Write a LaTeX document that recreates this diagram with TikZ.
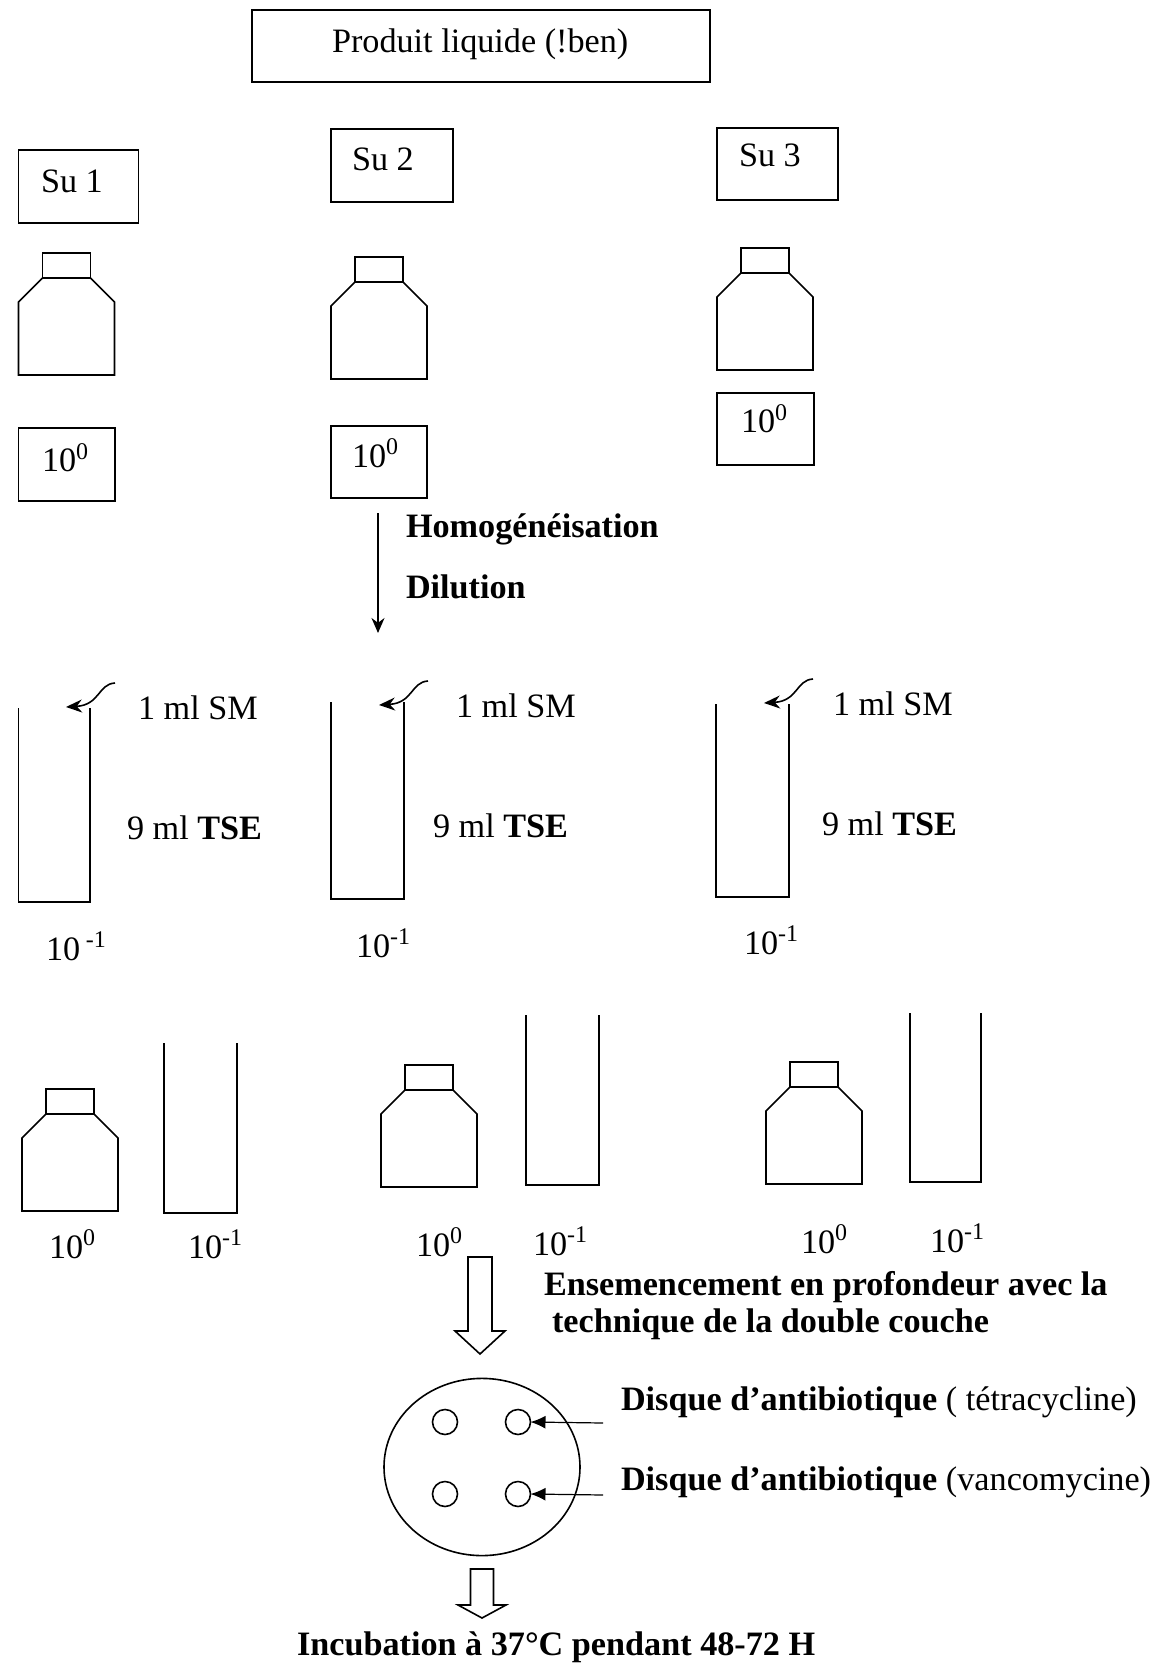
\documentclass[tikz,border=0pt]{standalone}
\usepackage{fontspec}
\setmainfont{Liberation Serif}
\usetikzlibrary{arrows.meta,shapes.geometric}
\newcommand\mybottle[2]{%
  \draw (#1+24,#2) rectangle (#1+72,#2+25);
  \draw (#1+24,#2+25) -- (#1,#2+49) -- (#1,#2+122) -- (#1+96,#2+122) -- (#1+96,#2+49) -- (#1+72,#2+25);
}
\newcommand\mytube[4]{\draw (#1,#2) -- (#1,#4) -- (#3,#4) -- (#3,#2);}
\newcommand\myhollow[6]{% cx, top, base, tip, shaft half, head half
  \draw (#1-#5,#2) -- (#1-#5,#3) -- (#1-#6,#3) -- (#1,#4) -- (#1+#6,#3) -- (#1+#5,#3) -- (#1+#5,#2) -- cycle;
}
\newcommand\mycurl[3]{% name, dx, dy
  \coordinate (#1s) at (115+#2,683+#3);
  \coordinate (#1e) at (66+#2,707+#3);
  \draw[curltip] (#1s) .. controls (98+#2,684+#3) and (100+#2,705+#3) .. (#1e);
}
\begin{document}
\begin{tikzpicture}[x=0.5pt,y=-0.5pt,
  line width=0.8pt,
  every node/.style={inner sep=0pt, outer sep=0pt, font=\fontsize{17.1}{20}\selectfont},
  lbl/.style={anchor=base west},
  bold/.style={font=\fontsize{17.1}{20}\selectfont\bfseries},
  curltip/.style={-{Stealth[length=8pt,width=6.5pt]}},
  disktip/.style={line width=0.6pt,-{Latex[length=7.5pt,width=6.5pt]}},
  disk/.style={draw, circle, minimum size=12.5pt}]
\useasboundingbox (0,0) rectangle (1164,1668);

% top box
\draw (252,10) rectangle (710,82);
\node[lbl] (prod) at (332,53) {Produit liquide (!ben)};

% Su boxes
\draw (18.5,150) rectangle (138.5,223);
\node[lbl] (su1) at (41,193) {Su 1};
\draw (331,129) rectangle (453,202);
\node[lbl] (su2) at (352,171) {Su 2};
\draw (717,128) rectangle (838,200);
\node[lbl] (su3) at (739,167) {Su 3};

% bottles row 1
\mybottle{18.5}{253}
\mybottle{331}{257}
\mybottle{717}{248}

% 10^0 boxes
\draw (18.5,428) rectangle (115,501);
\node[lbl] (c1) at (42,472) {10\textsuperscript{0}};
\draw (331,426) rectangle (427,498);
\node[lbl] (c2) at (352,467) {10\textsuperscript{0}};
\draw (717,393) rectangle (814,465);
\node[lbl] (c3) at (741,433) {10\textsuperscript{0}};

% main arrow
\coordinate (a1) at (378,513);
\coordinate (a2) at (378,633);
\draw[-{Stealth[length=7.5pt,width=6.5pt]}] (a1) -- (a2);
\node[lbl,bold] (homo) at (406,537) {Homogénéisation};
\node[lbl,bold] (dil) at (406,598) {Dilution};

% tubes row 2
\mytube{18.5}{708}{90}{902}
\mytube{331}{702}{404}{899}
\mytube{716}{704}{789}{897}
\mycurl{k1}{0}{0}
\mycurl{k2}{313}{-2}
\mycurl{k3}{698}{-4}

\node[lbl] (sm1) at (138,719) {1 ml SM};
\node[lbl] (sm2) at (456,717) {1 ml SM};
\node[lbl] (sm3) at (833,715) {1 ml SM};
\node[lbl] (tse1) at (127,839) {9 ml \textbf{TSE}};
\node[lbl] (tse2) at (433,837) {9 ml \textbf{TSE}};
\node[lbl] (tse3) at (822,835) {9 ml \textbf{TSE}};
\node[lbl] (d1) at (46,960) {10\,\textsuperscript{-1}};
\node[lbl] (d2) at (356,957) {10\textsuperscript{-1}};
\node[lbl] (d3) at (744,954) {10\textsuperscript{-1}};

% row 3
\mybottle{22}{1089}
\mytube{164}{1043}{237}{1213}
\mybottle{381}{1065}
\mytube{526}{1015}{599}{1185}
\mybottle{766}{1062}
\mytube{910}{1013}{981}{1182}

\node[lbl] (e1) at (49,1258) {10\textsuperscript{0}};
\node[lbl] (f1) at (188,1258) {10\textsuperscript{-1}};
\node[lbl] (e2) at (416,1256) {10\textsuperscript{0}};
\node[lbl] (f2) at (533,1255) {10\textsuperscript{-1}};
\node[lbl] (e3) at (801,1253) {10\textsuperscript{0}};
\node[lbl] (f3) at (930,1252) {10\textsuperscript{-1}};

% hollow arrow 1
\myhollow{480}{1257}{1331}{1354}{12}{25}
\node[lbl,bold] (ens1) at (544,1295) {Ensemencement en profondeur avec la};
\node[lbl,bold] (ens2) at (552,1332) {technique de la double couche};

% petri dish
\draw (482,1467) ellipse [x radius=49pt, y radius=44.3pt];
\node[disk] (p1) at (445,1422) {};
\node[disk] (p2) at (518,1422) {};
\node[disk] (p3) at (445,1494) {};
\node[disk] (p4) at (518,1494) {};
\coordinate (t1) at (603,1423);
\coordinate (t2) at (603,1495);
\draw[disktip] (t1) -- (p2.east);
\draw[disktip] (t2) -- (p4.east);
\node[lbl] (lab1) at (621,1410) {\textbf{Disque d’antibiotique} ( tétracycline)};
\node[lbl] (lab2) at (621,1490) {\textbf{Disque d’antibiotique} (vancomycine)};

% hollow arrow 2
\myhollow{482}{1569}{1605}{1618}{11.5}{24}
\node[lbl,bold] (inc) at (297,1655) {Incubation à 37°C pendant 48-72 H};
\end{tikzpicture}
\end{document}
